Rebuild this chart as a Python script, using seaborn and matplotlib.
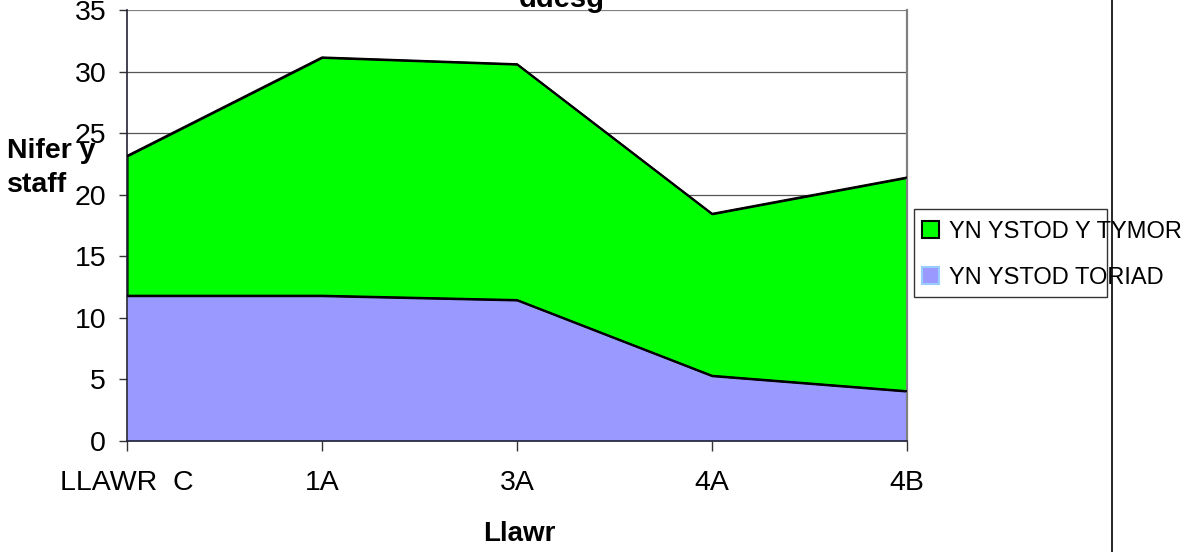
import matplotlib.pyplot as plt
import matplotlib.patches as mpatches
import pandas as pd
import seaborn as sns

# Chart data
floors = ["LLAWR  C", "1A", "3A", "4A", "4B"]
toriad = [11.8, 11.8, 11.45, 5.3, 4.05]      # YN YSTOD TORIAD (bottom)
tymor = [11.35, 19.35, 19.15, 13.15, 17.35]  # YN YSTOD Y TYMOR (stacked on top)
series_names = ["YN YSTOD Y TYMOR", "YN YSTOD TORIAD"]
y_ticks = [0, 5, 10, 15, 20, 25, 30, 35]

green = "#00FF00"
lavender = "#9999FF"

sns.set_theme(style="white")
plt.rcParams["font.family"] = ["Liberation Sans", "DejaVu Sans"]
plt.rcParams["text.color"] = "black"
plt.rcParams["xtick.color"] = "black"
plt.rcParams["ytick.color"] = "black"

df = pd.DataFrame({"floor": floors, "toriad": toriad, "tymor": tymor})
df["x"] = range(len(df))
df["total"] = df["toriad"] + df["tymor"]

fig = plt.figure(figsize=(11.92, 5.52), dpi=100)
ax = fig.add_axes([127 / 1192, 1 - 441 / 552, 780 / 1192, 431 / 552])

# Horizontal gridlines behind the areas
for t in y_ticks[1:]:
    ax.axhline(t, color="#808080" if t == 35 else "#555555",
               linewidth=1.6 if t == 35 else 0.9, zorder=0)

# Stacked areas
ax.fill_between(df["x"], 0, df["toriad"], color=lavender, linewidth=0, zorder=1)
ax.fill_between(df["x"], df["toriad"], df["total"], facecolor=green,
                edgecolor="black", linewidth=1.5, zorder=2)
sns.lineplot(data=df, x="x", y="total", color="black", linewidth=1.5, ax=ax, zorder=3)
sns.lineplot(data=df, x="x", y="toriad", color="black", linewidth=1.5, ax=ax, zorder=3)

ax.set_xlim(0, len(floors) - 1)
ax.set_ylim(0, 35)
ax.set_yticks(y_ticks)
ax.set_yticklabels([str(t) for t in y_ticks], fontsize=20.5)
ax.set_xticks(df["x"])
ax.set_xticklabels(floors, fontsize=20.5)
ax.tick_params(axis="x", direction="out", length=7, width=1, color="#333333",
               pad=14, bottom=True)
ax.tick_params(axis="y", direction="out", length=6, width=1, color="#333333",
               pad=9, left=True)
ax.set_xlabel("")
ax.set_ylabel("")

for side in ["left", "bottom"]:
    ax.spines[side].set_color("#222233")
    ax.spines[side].set_linewidth(1.2)
ax.spines["right"].set_color("#808080")
ax.spines["right"].set_linewidth(1.6)
ax.spines["top"].set_visible(False)

# Title (cut off at top in the original), axis labels
fig.text(562 / 1192, 1 - 7 / 552, "ddesg", fontsize=21, fontweight="bold",
         ha="center", va="baseline")
fig.text(519 / 1192, 1 - 541 / 552, "Llawr", fontsize=20, fontweight="bold",
         ha="center", va="baseline")
fig.text(7 / 1192, 1 - 158 / 552, "Nifer y", fontsize=20.5, fontweight="bold",
         ha="left", va="baseline", zorder=5)
fig.text(7 / 1192, 1 - 192 / 552, "staff", fontsize=20.5, fontweight="bold",
         ha="left", va="baseline", zorder=5)

# Legend
handles = [
    mpatches.Patch(facecolor=green, edgecolor="black", linewidth=1.5),
    mpatches.Patch(facecolor=lavender, edgecolor="#99CCFF", linewidth=1.5),
]
leg = fig.legend(handles, series_names, loc="upper left",
                 bbox_to_anchor=(922 / 1192, 1 - 221 / 552), frameon=False,
                 fontsize=17, handlelength=0.7, handleheight=0.7,
                 handletextpad=0.45, labelspacing=1.0, borderaxespad=0,
                 borderpad=0)
fig.patches.append(mpatches.Rectangle((914 / 1192, 1 - 297 / 552), 193 / 1192, 88 / 552,
                                      transform=fig.transFigure, fill=False,
                                      edgecolor="#333333", linewidth=1))

# Right-hand vertical rule
fig.add_artist(plt.Line2D([1112 / 1192, 1112 / 1192], [0, 1], color="black",
                          linewidth=1.2, transform=fig.transFigure))

fig.savefig("out.png", dpi=100)
